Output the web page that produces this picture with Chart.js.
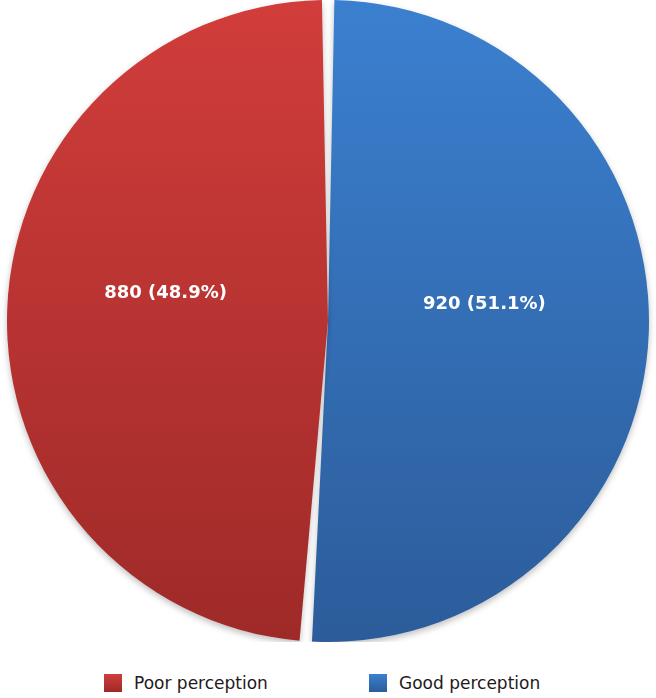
<!DOCTYPE html>
<html>
<head>
<meta charset="utf-8">
<title>Perception pie</title>
<script src="https://cdn.jsdelivr.net/npm/chart.js@4.4.1/dist/chart.umd.min.js"></script>
<style>
    body {
        margin: 0;
        background: #ffffff;
        font-family: 'DejaVu Sans', Verdana, sans-serif;
    }
    .wrap {
        position: relative;
        width: 656px;
        height: 698px;
    }
    .chart-box {
        position: absolute;
        left: 0;
        top: 0;
        width: 656px;
        height: 642px;
    }
    .legend-item {
        position: absolute;
        top: 673px;
        font-size: 17px;
        color: #1e1a1b;
        display: flex;
        align-items: center;
    }
    .legend-item span.box {
        display: inline-block;
        width: 18px;
        height: 18px;
        margin-right: 12px;
    }
</style>
</head>
<body>
<div class="wrap">
    <div class="chart-box"><canvas id="pie"></canvas></div>
    <div id="legend"></div>
</div>

<script>
// donnees
const labels = ['Good perception', 'Poor perception'];
const counts = [920, 880];
const percents = [51.1, 48.9];
const topColors = ['#3b80d0', '#d13d3b'];
const bottomColors = ['#2c5c9a', '#9e2a28'];
const legendOrder = [1, 0];
const legendX = [104, 369];

function vGradient(ctx, area, i) {
    const g = ctx.createLinearGradient(0, area.top, 0, area.bottom);
    g.addColorStop(0, topColors[i]);
    g.addColorStop(1, bottomColors[i]);
    return g;
}

// ombre legere sous le camembert
const shadowPlugin = {
    id: 'shadow',
    beforeDatasetsDraw(chart) {
        const c = chart.ctx;
        c.save();
        c.shadowColor = 'rgba(0,0,0,0.25)';
        c.shadowBlur = 6;
        c.shadowOffsetY = 3;
    },
    afterDatasetsDraw(chart) {
        chart.ctx.restore();
    }
};

// etiquettes dans les parts
const labelPlugin = {
    id: 'sliceLabels',
    afterDatasetsDraw(chart) {
        const c = chart.ctx;
        const meta = chart.getDatasetMeta(0);
        c.save();
        c.font = 'bold 18px "DejaVu Sans", Verdana, sans-serif';
        c.fillStyle = '#ffffff';
        c.textAlign = 'center';
        c.textBaseline = 'middle';
        meta.data.forEach((arc, i) => {
            const mid = (arc.startAngle + arc.endAngle) / 2;
            const r = arc.outerRadius * 0.5;
            const x = arc.x + Math.cos(mid) * r;
            const y = arc.y + Math.sin(mid) * r - 22;
            c.fillText(counts[i] + ' (' + percents[i].toFixed(1) + '%)', x - 3, y);
        });
        c.restore();
    }
};

const ctx = document.getElementById('pie').getContext('2d');
new Chart(ctx, {
    type: 'pie',
    data: {
        labels: labels,
        datasets: [{
            data: counts,
            backgroundColor: (context) => {
                const area = context.chart.chartArea;
                if (!area) return topColors[context.dataIndex];
                return vGradient(context.chart.ctx, area, context.dataIndex);
            },
            borderWidth: 0,
            spacing: 4,
            hoverOffset: 0
        }]
    },
    options: {
        responsive: true,
        maintainAspectRatio: false,
        animation: false,
        rotation: 0,
        layout: { padding: 0 },
        plugins: {
            legend: { display: false },
            tooltip: { enabled: false }
        }
    },
    plugins: [shadowPlugin, labelPlugin]
});

// legende html en bas
const legend = document.getElementById('legend');
legendOrder.forEach((idx, k) => {
    const item = document.createElement('div');
    item.className = 'legend-item';
    item.style.left = legendX[k] + 'px';
    const box = document.createElement('span');
    box.className = 'box';
    box.style.background = 'linear-gradient(' + topColors[idx] + ', ' + bottomColors[idx] + ')';
    item.appendChild(box);
    item.appendChild(document.createTextNode(labels[idx]));
    legend.appendChild(item);
});
</script>
</body>
</html>
